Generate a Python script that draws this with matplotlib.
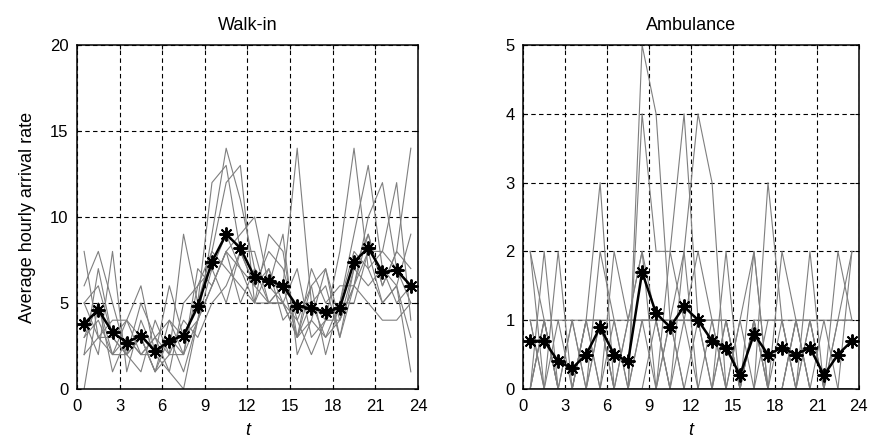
"""
Average hourly arrival rate by hour of day: walk-in and ambulance patients
"""

import numpy as np
import matplotlib.pyplot as plt

plt.rcParams['font.family'] = ['Liberation Sans', 'DejaVu Sans']

# Hour midpoints
hours = np.arange(24) + 0.5

# Walk-in: individual days (gray) and their average (black)
walkin_days = [
    [8, 3, 2, 4, 6, 2, 3, 1, 4, 9, 14, 11, 7, 5, 6, 14, 5, 3, 4, 7, 9, 6, 8, 14],
    [2, 7, 3, 2, 1, 4, 2, 9, 5, 12, 13, 8, 6, 7, 5, 4, 2, 4, 8, 14, 7, 5, 6, 3],
    [6, 8, 5, 2, 3, 1, 3, 2, 6, 8, 12, 13, 5, 9, 8, 3, 4, 7, 3, 6, 10, 12, 7, 5],
    [4, 2, 8, 1, 4, 2, 6, 3, 4, 6, 8, 9, 10, 6, 5, 7, 3, 4, 5, 9, 13, 7, 5, 6],
    [0, 5, 2, 3, 2, 3, 1, 5, 6, 7, 9, 7, 6, 8, 7, 4, 6, 2, 5, 8, 7, 8, 12, 4],
    [5, 6, 3, 4, 3, 1, 2, 4, 3, 5, 6, 8, 8, 5, 6, 3, 7, 5, 6, 6, 9, 6, 8, 7],
    [3, 4, 2, 2, 5, 3, 4, 3, 5, 8, 7, 6, 5, 7, 4, 5, 5, 6, 3, 7, 6, 7, 6, 1],
    [2, 3, 4, 4, 2, 2, 1, 0, 4, 6, 8, 5, 7, 6, 9, 2, 4, 3, 5, 5, 8, 5, 6, 9],
    [3, 5, 1, 3, 2, 3, 2, 2, 4, 7, 5, 8, 6, 5, 5, 3, 5, 4, 4, 6, 5, 4, 4, 5],
    [5, 3, 3, 2, 3, 1, 4, 2, 7, 6, 8, 7, 5, 5, 5, 3, 6, 7, 4, 6, 8, 8, 7, 6],
]
walkin_mean = [3.8, 4.6, 3.3, 2.7, 3.1, 2.2, 2.8, 3.1, 4.8, 7.4, 9.0, 8.2,
               6.5, 6.3, 6.0, 4.8, 4.7, 4.5, 4.7, 7.4, 8.2, 6.8, 6.9, 6.0]

# Ambulance: individual days (gray) and their average (black)
ambulance_days = [
    [1, 1, 1, 1, 1, 1, 1, 1, 1, 1, 1, 1, 1, 1, 1, 0, 1, 1, 1, 1, 1, 1, 1, 1],
    [2, 0, 1, 0, 1, 3, 0, 0, 5, 4, 1, 1, 0, 0, 2, 0, 1, 0, 1, 0, 2, 0, 1, 2],
    [0, 2, 0, 1, 0, 2, 1, 0, 4, 2, 2, 4, 1, 0, 1, 0, 2, 0, 0, 1, 0, 0, 2, 1],
    [1, 0, 2, 0, 1, 0, 2, 1, 2, 1, 0, 2, 4, 3, 0, 1, 0, 3, 1, 0, 1, 0, 0, 2],
    [2, 1, 0, 1, 0, 1, 0, 1, 2, 0, 2, 1, 2, 1, 1, 0, 1, 0, 2, 1, 0, 1, 0, 0],
    [0, 1, 0, 0, 1, 1, 0, 0, 1, 1, 1, 2, 0, 1, 0, 1, 2, 0, 0, 1, 1, 0, 1, 1],
    [1, 0, 0, 0, 0, 0, 1, 0, 1, 1, 0, 1, 1, 0, 1, 0, 0, 1, 1, 0, 1, 0, 0, 0],
    [0, 0, 0, 0, 1, 0, 0, 1, 1, 0, 1, 0, 0, 0, 0, 0, 0, 0, 0, 1, 0, 0, 0, 0],
    [0, 1, 0, 0, 0, 0, 0, 0, 0, 1, 0, 0, 1, 1, 0, 0, 0, 0, 0, 0, 0, 0, 0, 0],
    [0, 1, 0, 0, 0, 1, 0, 0, 0, 0, 1, 0, 0, 0, 0, 0, 1, 0, 0, 0, 0, 0, 0, 0],
]
ambulance_mean = [0.7, 0.7, 0.4, 0.3, 0.5, 0.9, 0.5, 0.4, 1.7, 1.1, 0.9, 1.2,
                  1.0, 0.7, 0.6, 0.2, 0.8, 0.5, 0.6, 0.5, 0.6, 0.2, 0.5, 0.7]

x_ticks = [0, 3, 6, 9, 12, 15, 18, 21, 24]


def draw_panel(ax, days, mean, title, ymax, ystep):
    """Gray daily traces + black average with asterisks"""
    for day in days:
        ax.plot(hours, day, color='#7f7f7f', linewidth=0.8)
    ax.plot(hours, mean, color='black', linewidth=1.8, marker=(8, 2, 0),
            markersize=10, markeredgewidth=1.4)
    ax.set_xlim(0, 24)
    ax.set_ylim(0, ymax)
    ax.set_xticks(x_ticks)
    ax.set_yticks(np.arange(0, ymax + ystep / 2, ystep))
    ax.grid(True, color='black', linestyle=(0, (4, 3)), linewidth=0.8)
    ax.tick_params(direction='in', length=3, labelsize=12, colors='black',
                   top=True, right=True)
    ax.tick_params(axis='x', pad=7)
    ax.tick_params(axis='y', pad=6)
    for sp in ax.spines.values():
        sp.set_linewidth(1.1)
    ax.set_title(title, fontsize=13, pad=11)
    ax.set_xlabel('t', fontstyle='italic', fontsize=13, labelpad=6)


fig = plt.figure(figsize=(8.72, 4.4), dpi=100)
ax1 = fig.add_axes([0.0883, 0.1159, 0.391, 0.7818])
ax2 = fig.add_axes([0.600, 0.1159, 0.385, 0.7818])

draw_panel(ax1, walkin_days, walkin_mean, 'Walk-in', 20, 5)
draw_panel(ax2, ambulance_days, ambulance_mean, 'Ambulance', 5, 1)
ax1.set_ylabel('Average hourly arrival rate', fontsize=13, labelpad=10)

fig.savefig('out.png', dpi=100)
